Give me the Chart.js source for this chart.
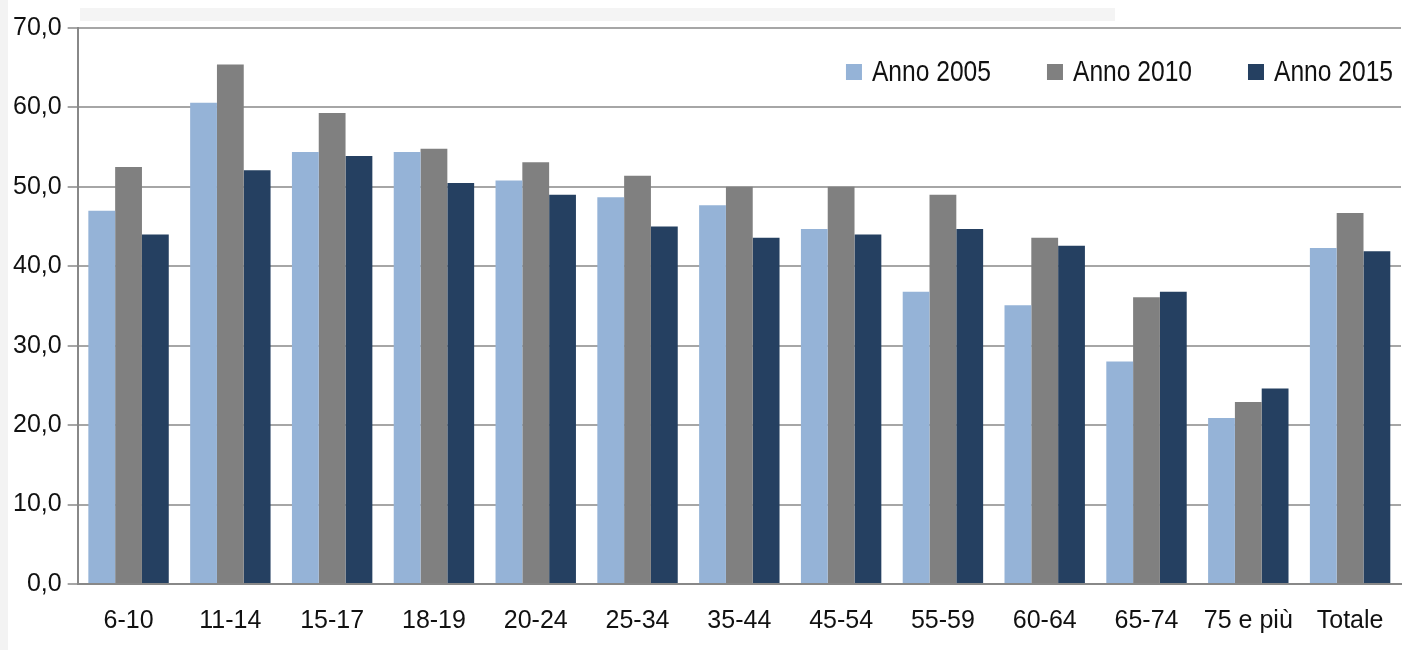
<!DOCTYPE html>
<html lang="it">
<head>
<meta charset="utf-8">
<title>Grafico per classi di età</title>
<script src="https://cdn.jsdelivr.net/npm/chart.js@4.4.1/dist/chart.umd.min.js"></script>
<style>
  html, body { margin: 0; padding: 0; background: #fff; }
  #wrap { position: relative; width: 1411px; height: 650px; }
  #bordo-sx { position: absolute; left: 0; top: 0; width: 8px; height: 650px; background: #f3f3f3; }
  #barra-top { position: absolute; left: 80px; top: 8px; width: 1035px; height: 13px; background: #f4f4f4; }
  canvas { position: absolute; left: 0; top: 0; }
</style>
</head>
<body>
<div id="wrap">
  <div id="bordo-sx"></div>
  <div id="barra-top"></div>
  <canvas id="grafico" width="1411" height="650"></canvas>
</div>
<script>
// Classi di età
const classi = ['6-10', '11-14', '15-17', '18-19', '20-24', '25-34', '35-44', '45-54', '55-59', '60-64', '65-74', '75 e più', 'Totale'];

// Valori per anno
const anno2005 = [47.0, 60.6, 54.4, 54.4, 50.8, 48.7, 47.7, 44.7, 36.8, 35.1, 28.0, 20.9, 42.3];
const anno2010 = [52.5, 65.4, 59.3, 54.8, 53.1, 51.4, 50.0, 50.0, 49.0, 43.6, 36.1, 22.9, 46.7];
const anno2015 = [44.0, 52.1, 53.9, 50.5, 49.0, 45.0, 43.6, 44.0, 44.7, 42.6, 36.8, 24.6, 41.9];

// Asse y
const yMin = 0;
const yMax = 70;
const yPasso = 10;

const coloreTesto = '#111';
const fontBase = "'Liberation Sans', Arial, sans-serif";
const fontLegenda = "30px 'Liberation Sans', Arial, sans-serif";
const strettoLegenda = 0.82; // testo della legenda più stretto, come nell'originale

// Legenda disegnata dentro l'area del grafico, in alto a destra
const legendaInterna = {
  id: 'legendaInterna',
  afterDraw(chart) {
    const c = chart.ctx;
    const area = chart.chartArea;
    const box = 16, gap = 10, spazio = 56;
    c.save();
    c.font = fontLegenda;
    c.textBaseline = 'middle';
    const voci = chart.data.datasets.map(ds => ({
      testo: ds.label,
      colore: ds.backgroundColor,
      w: c.measureText(ds.label).width * strettoLegenda
    }));
    const totale = voci.reduce((acc, v) => acc + box + gap + v.w, 0) + spazio * (voci.length - 1);
    let x = area.right - 8 - totale;
    const y = area.top + 44;
    voci.forEach(v => {
      c.fillStyle = v.colore;
      c.fillRect(x, y - box / 2, box, box);
      c.save();
      c.translate(x + box + gap, y + 1);
      c.scale(strettoLegenda, 1);
      c.fillStyle = coloreTesto;
      c.fillText(v.testo, 0, 0);
      c.restore();
      x += box + gap + v.w + spazio;
    });
    c.restore();
  }
};

window.addEventListener('DOMContentLoaded', () => {
  const ctx = document.getElementById('grafico').getContext('2d');

  new Chart(ctx, {
    type: 'bar',
    data: {
      labels: classi,
      datasets: [
        { label: 'Anno 2005', data: anno2005, backgroundColor: '#95b3d7' },
        { label: 'Anno 2010', data: anno2010, backgroundColor: '#808080' },
        { label: 'Anno 2015', data: anno2015, backgroundColor: '#254061' }
      ]
    },
    plugins: [legendaInterna],
    options: {
      responsive: false,
      animation: false,
      devicePixelRatio: 1,
      layout: { padding: { left: 7, top: 28, right: 10, bottom: 0 } },
      datasets: {
        bar: { barPercentage: 1, categoryPercentage: 0.79, borderWidth: 0 }
      },
      scales: {
        x: {
          grid: { display: false },
          border: { display: true, color: '#888', width: 2 },
          ticks: {
            color: coloreTesto,
            font: { family: fontBase, size: 25 },
            maxRotation: 0,
            autoSkip: false,
            padding: 14
          }
        },
        y: {
          min: yMin,
          max: yMax,
          grid: { color: '#a6a6a6', lineWidth: 2, tickLength: 10, drawTicks: true },
          border: { display: true, color: '#888', width: 2 },
          ticks: {
            stepSize: yPasso,
            color: coloreTesto,
            font: { family: fontBase, size: 25 },
            padding: 6,
            callback: v => v.toFixed(1).replace('.', ',')
          }
        }
      },
      plugins: {
        tooltip: { enabled: false },
        legend: { display: false }
      }
    }
  });
});
</script>
</body>
</html>
